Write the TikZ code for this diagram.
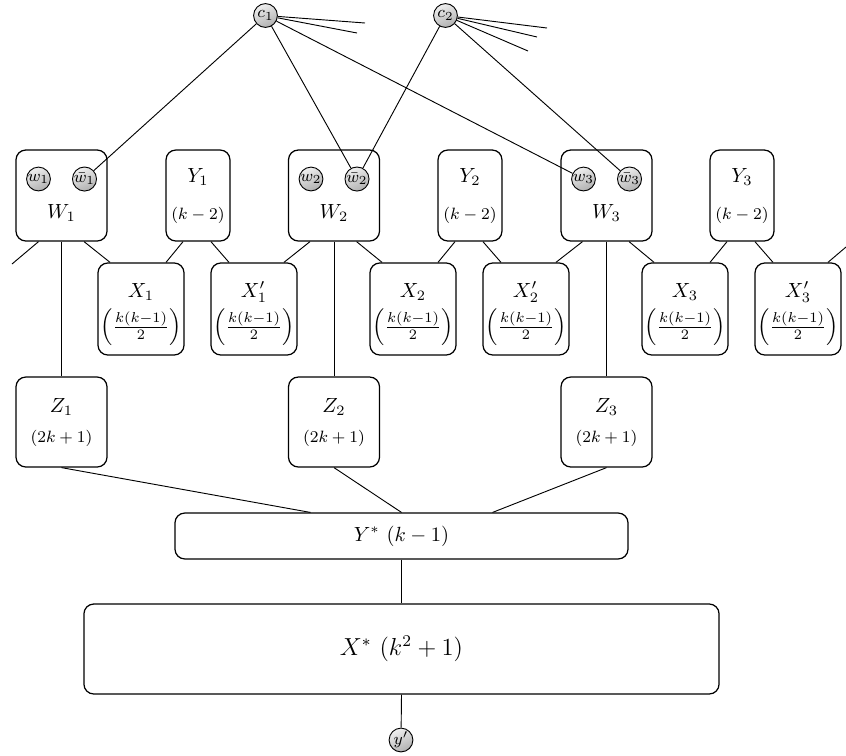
\documentclass[tikz,border=0pt]{standalone}
\usetikzlibrary{calc}
\begin{document}
\begin{tikzpicture}[x=0.4878pt,y=-0.4878pt,
  box/.style={draw,line width=0.6pt,rounded corners=4.8pt,inner sep=0pt},
  wbox/.style={box,minimum width=44.39pt,minimum height=44.39pt},
  ybox/.style={box,minimum width=31.2pt,minimum height=44.39pt},
  xbox/.style={box,minimum width=41.95pt,minimum height=44.9pt},
  zbox/.style={box,minimum width=44.39pt,minimum height=43.9pt},
  ball/.style={circle,draw,line width=0.45pt,inner sep=0pt,minimum size=11.6pt,
    top color=gray!12,bottom color=gray!62,shading angle=25,font=\footnotesize},
  con/.style={line width=0.45pt},
  lab/.style={inner sep=0pt},
  small/.style={inner sep=0pt,font=\footnotesize}]
\useasboundingbox (0,0) rectangle (846,755);

% top circles
\node[ball] (c1) at (265.5,15.5) {$c_1$};
\node[ball] (c2) at (445.5,15.5) {$c_2$};
\coordinate (f1) at (365,23);
\coordinate (f2) at (357,33);
\coordinate (f3) at (547,28);
\coordinate (f4) at (537,37);
\coordinate (f5) at (528,51);

% W boxes
\foreach \i/\x in {1/61.5,2/334,3/606.5}{
  \node[wbox] (W\i) at (\x,195.5) {};
  \node[lab] at ($(W\i)+(0,17.5)$) {$W_\i$};
  \node[ball] (w\i) at ($(W\i)+(-23,-16.5)$) {$w_\i$};
  \node[ball] (wb\i) at ($(W\i)+(23,-16.5)$) {$\bar{w}_\i$};
}
% Y boxes
\foreach \i/\x in {1/198,2/470,3/742}{
  \node[ybox] (Y\i) at (\x,195.5) {};
  \node[lab] at ($(Y\i)+(0,-18.5)$) {$Y_\i$};
  \node[small] at ($(Y\i)+(0,19.5)$) {$(k-2)$};
}
% X boxes
\foreach \i/\x/\xp in {1/141/254,2/413/526,3/685/798}{
  \node[xbox] (X\i) at (\x,309) {};
  \node[lab] at ($(X\i)+(0,-17)$) {$X_\i$};
  \node[lab] at ($(X\i)+(0,18)$) {$\left(\frac{k(k-1)}{2}\right)$};
  \node[xbox] (Xp\i) at (\xp,309) {};
  \node[lab] at ($(Xp\i)+(0,-17)$) {$X'_\i$};
  \node[lab] at ($(Xp\i)+(0,18)$) {$\left(\frac{k(k-1)}{2}\right)$};
}
% Z boxes
\foreach \i/\x in {1/61.5,2/334,3/606.5}{
  \node[zbox] (Z\i) at (\x,422) {};
  \node[lab] at ($(Z\i)+(0,-15)$) {$Z_\i$};
  \node[small] at ($(Z\i)+(0,16)$) {$(2k+1)$};
}
\node[box,minimum width=221pt,minimum height=22.4pt] (Ys) at (401.5,536) {$Y^*\ (k-1)$};
\node[box,minimum width=309.8pt,minimum height=43.9pt,font=\large] (Xs) at (401.5,649) {$X^*\ (k^2+1)$};
\node[ball] (yp) at (401,740) {$y'$};

% free ends
\coordinate (e1) at (12,264);
\coordinate (e2) at (846,247);

% connectors from top
\draw[con] (c1) -- (wb1);
\draw[con] (c1) -- (wb2);
\draw[con] (c1) -- (w3);
\draw[con] (c2) -- (wb2);
\draw[con] (c2) -- (wb3);
\draw[con] (c1) -- (f1);
\draw[con] (c1) -- (f2);
\draw[con] (c2) -- (f3);
\draw[con] (c2) -- (f4);
\draw[con] (c2) -- (f5);

% W/Y to X
\draw[con] ([xshift=-11.2pt]W1.south) -- (e1);
\foreach \i in {1,2,3}{
  \draw[con] ([xshift=11pt]W\i.south) -- ([xshift=-15.1pt]X\i.north);
  \draw[con] ([xshift=-7.3pt]Y\i.south) -- ([xshift=12.2pt]X\i.north);
  \draw[con] ([xshift=6.3pt]Y\i.south) -- ([xshift=-12.2pt]Xp\i.north);
  \draw[con] (W\i.south) -- (Z\i.north);
}
\draw[con] ([xshift=-11.7pt]W2.south) -- ([xshift=14.6pt]Xp1.north);
\draw[con] ([xshift=-11.7pt]W3.south) -- ([xshift=14.6pt]Xp2.north);
\draw[con] ([xshift=14.6pt]Xp3.north) -- (e2);

% Z to Y*
\draw[con] (Z1.south) -- ([xshift=-44.4pt]Ys.north);
\draw[con] (Z2.south) -- (Ys.north);
\draw[con] (Z3.south) -- ([xshift=44.4pt]Ys.north);
\draw[con] (Ys.south) -- (Xs.north);
\draw[con] (Xs.south) -- (yp);
\end{tikzpicture}
\end{document}
